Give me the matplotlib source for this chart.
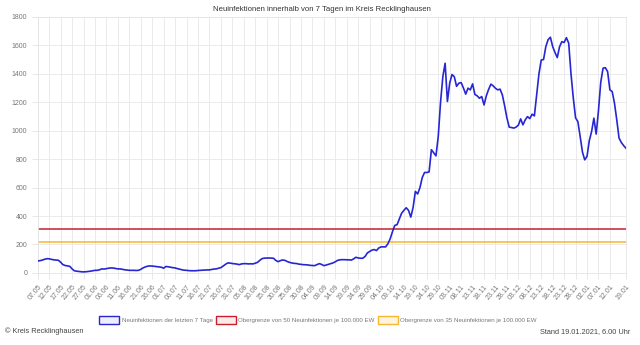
import datetime as dt
import matplotlib
matplotlib.use("Agg")
import matplotlib.pyplot as plt
from matplotlib.patches import Patch

plt.rcParams['font.family'] = ['Liberation Sans', 'DejaVu Sans']

start = dt.date(2020, 5, 7)
cases = [84, 86, 90, 96, 100, 99, 95, 92, 90, 89,
         75, 58, 52, 49, 46, 28, 15, 12, 10, 8,
         7, 8, 10, 12, 15, 18, 18, 22, 28, 27,
         30, 33, 35, 34, 31, 28, 28, 25, 22, 20,
         18, 18, 18, 17, 18, 25, 35, 42, 47, 49,
         48, 46, 44, 42, 40, 33, 45, 43, 40, 37,
         35, 30, 26, 22, 19, 18, 16, 15, 15, 15,
         17, 18, 19, 20, 21, 21, 24, 27, 28, 33,
         37, 48, 60, 70, 69, 66, 64, 62, 58, 63,
         65, 65, 63, 64, 63, 68, 74, 88, 100, 104,
         104, 105, 104, 103, 88, 79, 86, 91, 88, 80,
         74, 70, 67, 66, 62, 60, 58, 57, 56, 53,
         52, 51, 58, 65, 60, 51, 55, 60, 65, 70,
         78, 88, 92, 93, 93, 92, 92, 90, 98, 110,
         105, 103, 103, 115, 140, 150, 160, 164, 157, 175,
         183, 183, 183, 205, 240, 290, 334, 339, 380, 420,
         440, 458, 440, 392, 460, 573, 555, 600, 670, 706,
         706, 710, 866, 845, 823, 960, 1200, 1380, 1474, 1205,
         1334, 1395, 1380, 1312, 1334, 1338, 1300, 1257, 1299, 1287,
         1329, 1255, 1245, 1228, 1240, 1181, 1245, 1290, 1327, 1315,
         1298, 1287, 1292, 1252, 1175, 1090, 1025, 1022, 1018, 1025,
         1039, 1083, 1041, 1076, 1099, 1085, 1116, 1104, 1250, 1400,
         1497, 1500, 1591, 1640, 1657, 1591, 1550, 1514, 1590, 1626,
         1620, 1654, 1615, 1400, 1230, 1090, 1064, 960, 850, 795,
         819, 930, 994, 1088, 976, 1140, 1340, 1439, 1443, 1415,
         1287, 1275, 1193, 1076, 948, 917, 895, 877]
limit_50 = 307.5
limit_35 = 215.3

dates = [start + dt.timedelta(days=i) for i in range(len(cases))]
labels = [d.strftime('%d.%m') for d in dates]
x = list(range(len(cases)))
tick_pos = list(range(0, len(cases) - 5, 5)) + [len(cases) - 1]

blue = '#2626d2'
red = '#c8202c'
orange = '#f7b733'
grey = '#777777'

fig = plt.figure(figsize=(6.4, 3.45), dpi=100)
ax = fig.add_axes([0.059, 0.209, 0.919, 0.742])

ax.plot(x, cases, color=blue, lw=1.2, zorder=3)
ax.axhline(limit_50, color=red, lw=1.1, zorder=2)
ax.axhline(limit_35, color=orange, lw=1.1, zorder=2)

ax.set_xlim(0, len(cases) - 1)
ax.set_ylim(0, 1800)
ax.set_yticks(range(0, 1801, 200))
ax.set_xticks(tick_pos)
ax.set_xticklabels([labels[i] for i in tick_pos], rotation=50, ha='right',
                   rotation_mode='anchor')
ax.tick_params(axis='both', labelsize=5, colors=grey, length=4, width=0.6)
ax.tick_params(axis='both', color='#e4e4e4')
ax.grid(True, color='#e8e8e8', lw=0.6)
ax.set_axisbelow(True)
for s in ax.spines.values():
    s.set_color('#e4e4e4')
    s.set_linewidth(0.6)

fig.text(0.503, 0.972, 'Neuinfektionen innerhalb von 7 Tagen im Kreis Recklinghausen',
         ha='center', va='center', fontsize=5.6, color='#333333')

handles = [Patch(facecolor='#eeeeff', edgecolor=blue, lw=1.0),
           Patch(facecolor='#fbeaea', edgecolor=red, lw=1.0),
           Patch(facecolor='#fff5dc', edgecolor=orange, lw=1.0)]
names = ['Neuinfektionen der letzten 7 Tage',
         'Obergrenze von 50 Neuinfektionen je 100.000 EW',
         'Obergrenze von 35 Neuinfektionen je 100.000 EW']
leg = fig.legend(handles, names, loc='center', bbox_to_anchor=(0.497, 0.073),
                 ncol=3, frameon=False, fontsize=4.4, handlelength=3.3,
                 handleheight=1.5, handletextpad=0.4, columnspacing=0.5)
for t in leg.get_texts():
    t.set_color(grey)

fig.text(0.008, 0.04, '\u00a9 Kreis Recklinghausen', ha='left', va='center',
         fontsize=5.3, color='#444444')
fig.text(0.985, 0.04, 'Stand 19.01.2021, 6.00 Uhr', ha='right', va='center',
         fontsize=5.3, color='#444444')

fig.savefig('out.png', dpi=100)
